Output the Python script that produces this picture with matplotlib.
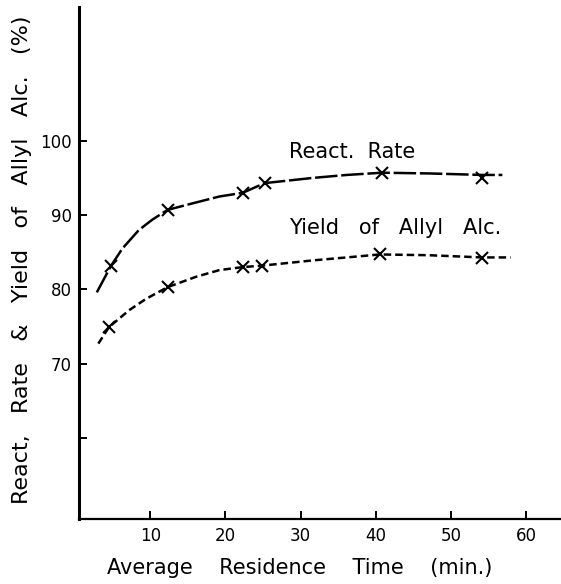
import matplotlib
matplotlib.use("Agg")
import matplotlib.pyplot as plt

# marked points
time_pts = [4.8, 12.3, 22.3, 25.2, 40.8, 54.1]
react_pts = [83.2, 90.7, 93.0, 94.3, 95.7, 95.0]
yield_time_pts = [4.5, 12.3, 22.3, 24.9, 40.5, 54.1]
yield_pts = [74.9, 80.3, 83.0, 83.2, 84.7, 84.2]

# points along the hand-drawn curves
react_curve_t = [2.9, 4.8, 6.3, 8.5, 10.3, 12.3, 16.1, 19.2, 22.3, 25.2,
                 31.6, 36.1, 40.8, 47.2, 54.1, 56.8]
react_curve_v = [79.6, 83.2, 85.5, 88.0, 89.4, 90.7, 91.7, 92.5, 93.0, 94.3,
                 95.0, 95.4, 95.7, 95.6, 95.4, 95.4]
yield_curve_t = [3.1, 4.5, 7.2, 9.4, 12.3, 16.1, 19.2, 22.3, 24.9, 31.6,
                 36.1, 40.5, 47.0, 54.1, 57.9]
yield_curve_v = [72.7, 74.9, 77.2, 78.7, 80.3, 81.7, 82.6, 83.0, 83.2, 83.9,
                 84.3, 84.7, 84.6, 84.3, 84.3]

x_ticks = [10, 20, 30, 40, 50, 60]
y_ticks = [60, 70, 80, 90, 100]
y_tick_labels = ["", "70", "80", "90", "100"]

fig = plt.figure(figsize=(5.61, 5.84), dpi=100)
ax = fig.add_axes([0.1408, 0.1113, 0.862, 0.8767])

ax.plot(react_curve_t, react_curve_v, color="black", linewidth=1.8,
        linestyle=(0, (9, 1.5)))
ax.plot(yield_curve_t, yield_curve_v, color="black", linewidth=1.8,
        linestyle=(0, (3, 1.6)))
ax.plot(time_pts, react_pts, linestyle="none", marker="x", markersize=8.5,
        markeredgewidth=1.5, color="black")
ax.plot(yield_time_pts, yield_pts, linestyle="none", marker="x", markersize=8.5,
        markeredgewidth=1.5, color="black")

ax.text(28.4, 98.5, "React.  Rate", fontsize=15, ha="left", va="center")
ax.text(28.4, 88.2, "Yield   of   Allyl   Alc.", fontsize=15, ha="left", va="center")

ax.set_xlim(0.53, 64.8)
ax.set_ylim(49.1, 118)
ax.set_xticks(x_ticks)
ax.set_yticks(y_ticks)
ax.set_yticklabels(y_tick_labels)
ax.tick_params(direction="in", length=6, width=1.4, labelsize=12)
ax.tick_params(axis="x", pad=6)
ax.tick_params(axis="y", pad=5)

for side in ["top", "right"]:
    ax.spines[side].set_visible(False)
ax.spines["left"].set_linewidth(2.2)
ax.spines["bottom"].set_linewidth(1.6)

ax.set_xlabel("Average    Residence    Time    (min.)", fontsize=15)
ax.xaxis.set_label_coords(0.456, -0.076)
ax.set_ylabel("React,   Rate   &   Yield   of   Allyl   Alc.   (%)", fontsize=16)
ax.yaxis.set_label_coords(-0.098, 0.506)

fig.savefig("out.png", dpi=100)
